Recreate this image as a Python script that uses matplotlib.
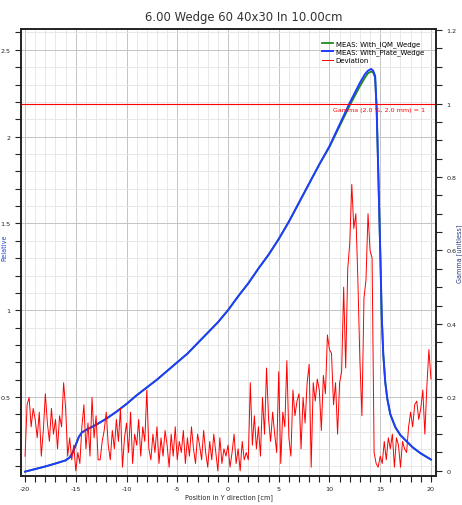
import numpy as np
import matplotlib
matplotlib.use('Agg')
import matplotlib.pyplot as pl
from matplotlib.ticker import MultipleLocator, FormatStrFormatter

# profile positions [cm] and relative values
pos = [-20, -19, -18, -17, -16, -15.6, -15.3, -15.0, -14.7, -14.4,
       -14.0, -13.0, -12.0, -11.0, -10.0, -9.0, -8.0, -7.0, -6.0, -5.0,
       -4.0, -3.0, -2.0, -1.0, 0.0, 1.0, 2.0, 3.0, 4.0, 5.0,
       6.0, 7.0, 8.0, 9.0, 10.0, 11.0, 12.0, 13.0, 13.5, 13.8,
       14.1, 14.3, 14.5, 14.65, 14.8, 15.0, 15.15, 15.3, 15.5, 15.7,
       16.0, 16.5, 17.0, 18.2, 19.0, 20.0]
plate = [0.07, 0.085, 0.10, 0.117, 0.135, 0.152, 0.18, 0.225, 0.27, 0.296,
         0.31, 0.34, 0.375, 0.415, 0.46, 0.51, 0.555, 0.60, 0.65, 0.70,
         0.75, 0.81, 0.87, 0.93, 1.0, 1.08, 1.155, 1.24, 1.32, 1.41,
         1.51, 1.62, 1.73, 1.84, 1.945, 2.07, 2.195, 2.31, 2.36, 2.38,
         2.39, 2.38, 2.35, 2.16, 1.82, 1.35, 0.97, 0.75, 0.585, 0.49,
         0.40, 0.325, 0.28, 0.21, 0.175, 0.14]
iqm = [0.07, 0.085, 0.10, 0.117, 0.135, 0.152, 0.18, 0.225, 0.27, 0.296,
       0.31, 0.34, 0.375, 0.415, 0.46, 0.51, 0.555, 0.60, 0.65, 0.70,
       0.75, 0.81, 0.87, 0.93, 1.0, 1.08, 1.155, 1.24, 1.32, 1.41,
       1.51, 1.62, 1.73, 1.84, 1.94, 2.06, 2.18, 2.29, 2.34, 2.365,
       2.375, 2.37, 2.34, 2.16, 1.82, 1.35, 0.97, 0.75, 0.585, 0.49,
       0.40, 0.325, 0.28, 0.21, 0.175, 0.14]

# gamma deviation, one value every 0.2 cm from -20 to 20
gamma_pos = np.linspace(-20, 20, 201)
gamma = [0.04, 0.18, 0.20, 0.12, 0.17, 0.14, 0.09, 0.16, 0.04, 0.11,
         0.21, 0.13, 0.08, 0.17, 0.10, 0.14, 0.06, 0.15, 0.12, 0.24,
         0.17, 0.04, 0.09, 0.03, 0.07, 0.00, 0.05, 0.02, 0.12, 0.18,
         0.06, 0.13, 0.04, 0.20, 0.09, 0.15, 0.03, 0.03, 0.08, 0.11,
         0.16, 0.07, 0.03, 0.11, 0.06, 0.14, 0.08, 0.17, 0.01, 0.09,
         0.13, 0.05, 0.16, 0.02, 0.10, 0.07, 0.14, 0.04, 0.12, 0.08,
         0.22, 0.06, 0.03, 0.10, 0.05, 0.12, 0.02, 0.09, 0.04, 0.11,
         0.07, 0.01, 0.10, 0.04, 0.12, 0.03, 0.08, 0.05, 0.11, 0.02,
         0.09, 0.04, 0.12, 0.06, 0.02, 0.10, 0.07, 0.03, 0.11, 0.05,
         0.01, 0.08, 0.03, 0.10, 0.05, 0.00, 0.09, 0.02, 0.06, 0.04,
         0.07, 0.01, 0.05, 0.10, 0.02, 0.06, 0.00, 0.08, 0.03, 0.05,
         0.03, 0.24, 0.07, 0.15, 0.06, 0.12, 0.04, 0.20, 0.10, 0.28,
         0.14, 0.08, 0.16, 0.10, 0.05, 0.27, 0.02, 0.16, 0.12, 0.30,
         0.09, 0.04, 0.22, 0.15, 0.19, 0.21, 0.06, 0.20, 0.13, 0.24,
         0.29, 0.01, 0.24, 0.19, 0.25, 0.22, 0.11, 0.26, 0.21, 0.37,
         0.33, 0.32, 0.18, 0.24, 0.10, 0.24, 0.27, 0.50, 0.28, 0.55,
         0.62, 0.78, 0.66, 0.70, 0.52, 0.30, 0.15, 0.47, 0.52, 0.70,
         0.60, 0.58, 0.05, 0.02, 0.01, 0.04, 0.02, 0.08, 0.03, 0.09,
         0.06, 0.10, 0.01, 0.09, 0.07, 0.01, 0.08, 0.06, 0.05, 0.12,
         0.16, 0.12, 0.18, 0.19, 0.14, 0.17, 0.22, 0.10, 0.23, 0.33,
         0.25]

labels = ['MEAS: With_IQM_Wedge', 'MEAS: With_Plate_Wedge', 'Deviation']
title = '6.00 Wedge 60 40x30 In 10.00cm'
dark = '#222222'
fs = 4.6

fig = pl.figure(figsize=(4.62, 5.06), dpi=100)
ax = fig.add_axes([21/462, 1-477/506, 415/462, 447/506])
ax2 = ax.twinx()

l1, = ax.plot(pos, iqm, color='#1c8a1c', lw=1.3, label=labels[0])
l2, = ax.plot(pos, plate, color='#1f3cff', lw=1.4, label=labels[1])
l3, = ax2.plot(gamma_pos, gamma, color='red', lw=0.7, label=labels[2])
ax2.axhline(1.0, color='red', lw=0.8)
ax2.text(19.4, 0.99, 'Gamma (2.0 %, 2.0 mm) = 1', color='red',
         fontsize=fs, ha='right', va='top')

ax.set_xlim(-20.4, 20.5)
ax.set_ylim(0.045, 2.62)
ax2.set_ylim(-0.014, 1.203)

ax.xaxis.set_major_locator(MultipleLocator(5))
ax.xaxis.set_minor_locator(MultipleLocator(1))
ax.yaxis.set_major_locator(MultipleLocator(0.5))
ax.yaxis.set_minor_locator(MultipleLocator(0.1))
ax2.yaxis.set_major_locator(MultipleLocator(0.2))
ax2.yaxis.set_minor_locator(MultipleLocator(0.05))
ax.xaxis.set_major_formatter(FormatStrFormatter('%g'))
ax.yaxis.set_major_formatter(FormatStrFormatter('%g'))
ax2.yaxis.set_major_formatter(FormatStrFormatter('%g'))

ax.grid(which='major', color='#c4c4c4', lw=0.7)
ax.grid(which='minor', color='#e4e4e4', lw=0.6)
ax.set_axisbelow(True)

for a in (ax, ax2):
    a.tick_params(which='both', direction='out', length=4, width=0.8,
                  colors=dark, labelsize=fs, pad=3.5)
    for s in a.spines.values():
        s.set_color(dark)
        s.set_linewidth(1.2)

ax.set_xlabel('Position in Y direction [cm]', fontsize=4.7, color=dark, labelpad=1.5)
ax.set_ylabel('Relative', fontsize=4.7, color='#2244cc')
ax.yaxis.set_label_coords(-0.034, 0.512)
ax2.set_ylabel('Gamma [unitless]', fontsize=4.7, color='#1f3a7a')
ax2.yaxis.set_label_coords(1.048, 0.5)

ax2.legend([l1, l2, l3], labels, loc='upper left', bbox_to_anchor=(0.725, 0.975),
           fontsize=5, frameon=False, handlelength=1.6, handletextpad=0.4,
           labelspacing=0.25, borderpad=0, borderaxespad=0)

fig.text(0.528, 1-17/506, title, ha='center', va='center', fontsize=8.4, color='#333333')

fig.savefig('out.png', dpi=100)
